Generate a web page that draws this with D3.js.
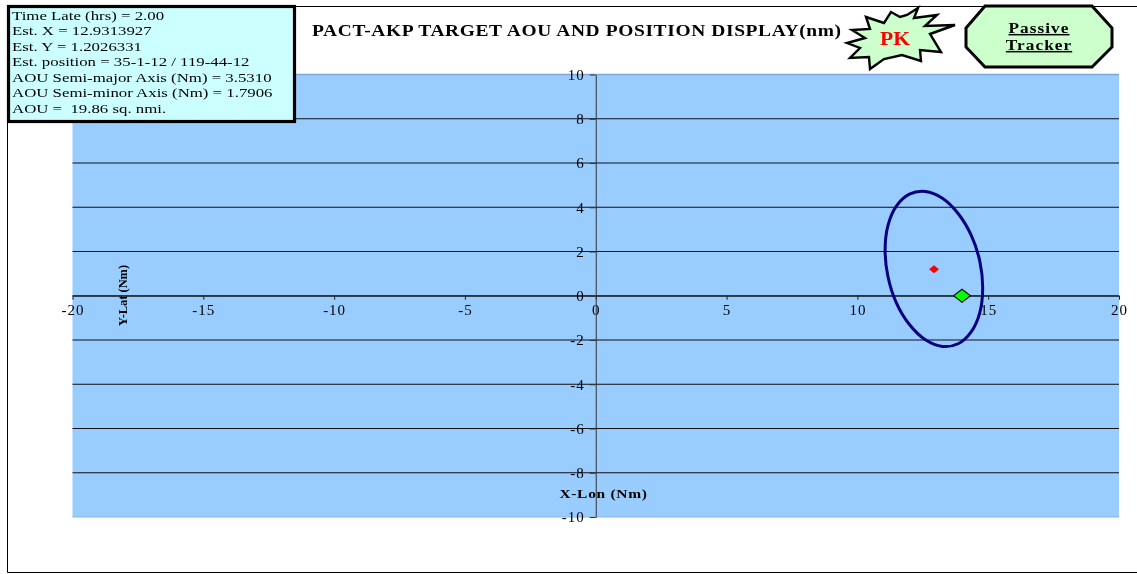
<!DOCTYPE html>
<html><head><meta charset="utf-8">
<script src="https://cdn.jsdelivr.net/npm/d3@7"></script>
<style>
html,body{margin:0;padding:0;background:#fff;overflow:hidden}
svg{display:block;filter:blur(0.3px)}
text{font-family:"Liberation Serif","Times New Roman",serif;fill:#000}
.tick text{font-size:15px;letter-spacing:1px}
</style></head><body>
<svg id="c" width="1137" height="574"></svg>
<script>
const titleText = "PACT-AKP TARGET AOU AND POSITION DISPLAY(nm)";
const xLabel = "X-Lon (Nm)";
const yLabel = "Y-Lat (Nm)";
const infoLines = ["Time Late (hrs) = 2.00","Est. X = 12.9313927","Est. Y = 1.2026331","Est. position = 35-1-12 / 119-44-12","AOU Semi-major Axis (Nm) = 3.5310","AOU Semi-minor Axis (Nm) = 1.7906","AOU =  19.86 sq. nmi."];
const xTicks = [-20,-15,-10,-5,0,5,10,15,20];
const yTicks = [-10,-8,-6,-4,-2,0,2,4,6,8,10];
const gridValues = [-8,-6,-4,-2,0,2,4,6,8];
const ellipseX = [14.79,14.68,14.35,13.85,13.25,12.60,11.99,11.49,11.17,11.06,11.17,11.49,11.99,12.60,13.25,13.85,14.35,14.68];
const ellipseY = [0.35,1.56,2.74,3.72,4.41,4.71,4.59,4.05,3.18,2.07,0.86,-0.32,-1.30,-1.99,-2.29,-2.17,-1.63,-0.76];
const estimate = {x:12.93,y:1.20};
const tracker = {x:14.0,y:0.0};

const svg = d3.select("#c");
const x = d3.scaleLinear().domain([-20,20]).range([72.5,1119]);
const y = d3.scaleLinear().domain([-10,10]).range([517,74.5]);
const hyphen = d => String(d);

// outer frame
svg.append("path").attr("d","M7.5,6.5H1137M7.5,6.5V572.5H1137").attr("fill","none").attr("stroke","#000").attr("stroke-width",1);

// plot area
svg.append("rect").attr("x",x(-20)).attr("y",y(10)).attr("width",x(20)-x(-20)).attr("height",y(-10)-y(10)).attr("fill","#99ccff");
svg.append("path").attr("d",`M${x(-20)},${y(10)}H${x(20)}`).attr("stroke","#7da9d8").attr("stroke-width",1.5);
svg.append("path").attr("d",`M${x(-20)},${y(-10)}H${x(20)}`).attr("stroke","#8fb4dc").attr("stroke-width",1);

// grid
svg.append("g").selectAll("line").data(gridValues).join("line")
  .attr("x1",x(-20)).attr("x2",x(20)).attr("y1",d=>y(d)).attr("y2",d=>y(d))
  .attr("stroke","#111").attr("stroke-width",1);

// axes cross at zero
const xAxis = d3.axisBottom(x).tickValues(xTicks).tickFormat(hyphen).tickSize(4).tickSizeOuter(0).tickPadding(5);
const yAxis = d3.axisLeft(y).tickValues(yTicks).tickFormat(hyphen).tickSize(6).tickSizeOuter(0).tickPadding(5);
const gx = svg.append("g").attr("transform",`translate(0,${y(0)})`).call(xAxis);
const gy = svg.append("g").attr("transform",`translate(${x(0)},0)`).call(yAxis);
gx.selectAll(".domain,line").attr("stroke","#222");
gy.selectAll(".domain,line").attr("stroke","#333");
gx.selectAll("text").attr("fill","#000");
gy.selectAll("text").attr("fill","#000");

// AOU ellipse
const line = d3.line().x(d=>x(d[0])).y(d=>y(d[1])).curve(d3.curveCatmullRomClosed);
svg.append("path").datum(d3.zip(ellipseX,ellipseY)).attr("d",line)
  .attr("fill","none").attr("stroke","#000080").attr("stroke-width",3);

// markers
const diamond = (cx,cy,rx,ry)=>`M${cx-rx},${cy}L${cx},${cy-ry}L${cx+rx},${cy}L${cx},${cy+ry}Z`;
svg.append("path").attr("d",diamond(x(estimate.x),y(estimate.y),5,4)).attr("fill","#ff0000");
svg.append("path").attr("d",diamond(x(tracker.x),y(tracker.y),8.5,6.5)).attr("fill","#00ff00").attr("stroke","#111").attr("stroke-width",1.2);

// axis titles
svg.append("text").attr("transform","translate(603.5,498) scale(1.19,1)").attr("text-anchor","middle")
  .attr("font-size",13).attr("font-weight","bold").attr("letter-spacing",.6).text(xLabel);
svg.append("text").attr("transform","translate(127,295.5) rotate(-90)").attr("text-anchor","middle")
  .attr("font-size",12.4).attr("font-weight","bold").text(yLabel);

// info box
svg.append("rect").attr("x",8.5).attr("y",6.5).attr("width",286).attr("height",115)
  .attr("fill","#ccffff").attr("stroke","#000").attr("stroke-width",3.2);
svg.append("g").attr("transform","translate(12,0) scale(1.245,1)").selectAll("text").data(infoLines).join("text")
  .attr("x",0).attr("y",(d,i)=>20+i*15.5)
  .attr("font-size",13.5).style("white-space","pre").text(d=>d);

// title
svg.append("text").attr("transform","translate(312,35.5) scale(1.218,1)").attr("font-size",16).attr("font-weight","bold").attr("letter-spacing",.5).text(titleText);

// PK burst
const burstPts = [[918,8],[914,18],[937,15],[925,26],[955,25],[930,34],[941,52],[920,50],[921,61],[902,55],[884,59],[870,69],[869,57],[850,58],[860,48],[847,43],[865,38],[852,30],[870,29],[866,17],[884,23],[891,12],[900,17],[907,15]];
svg.append("path").attr("d",d3.line()(burstPts)+"Z").attr("fill","#ccffcc").attr("stroke","#000").attr("stroke-width",2.4).attr("stroke-linejoin","miter");
svg.append("text").attr("transform","translate(895,45) scale(1.2,1)").attr("text-anchor","middle").attr("font-size",18).attr("font-weight","bold").style("fill","#ff0000").text("PK");

// Passive Tracker octagon
const octPts = [[985,6],[1092,6],[1112,28],[1112,47],[1092,67],[985,67],[966,47],[966,28]];
svg.append("path").attr("d",d3.line()(octPts)+"Z").attr("fill","#ccffcc").attr("stroke","#000").attr("stroke-width",3);
[["Passive",33],["Tracker",50]].forEach(([t,yy])=>{
  svg.append("text").attr("transform",`translate(1039,${yy}) scale(1.15,1)`).attr("text-anchor","middle").attr("font-size",15).attr("font-weight","bold").attr("letter-spacing",.9).attr("text-decoration","underline").text(t);
});
</script>
</body></html>
